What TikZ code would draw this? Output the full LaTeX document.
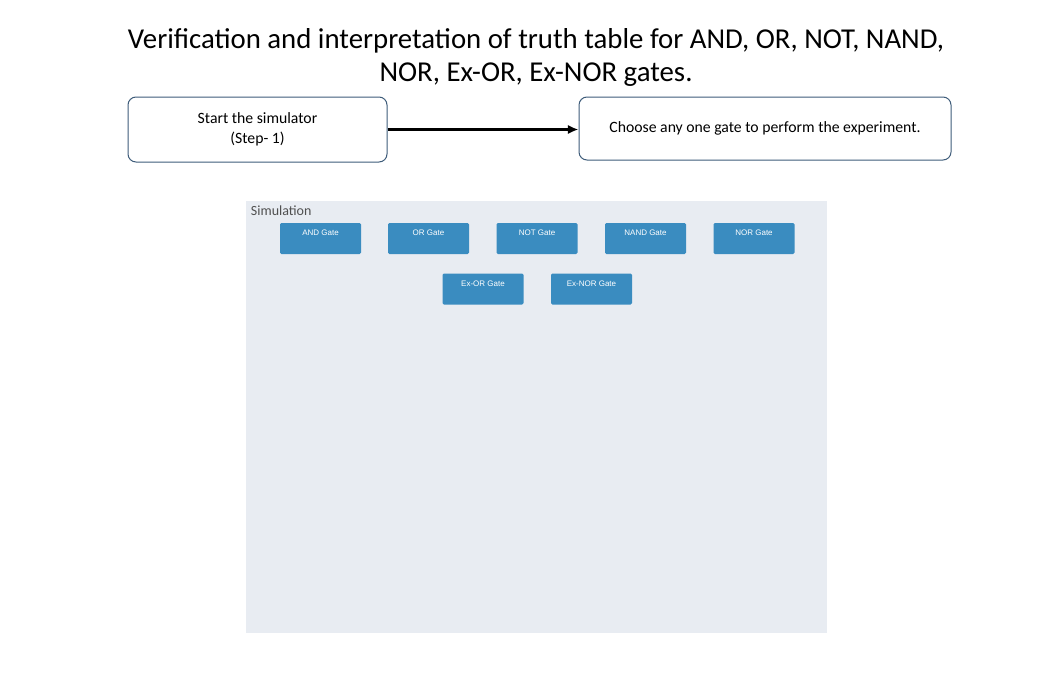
\documentclass[tikz,border=0pt]{standalone}
\usepackage{fontspec}
\setmainfont{Carlito}
\newfontfamily\btnfont{Liberation Sans}
\usetikzlibrary{arrows.meta}

\definecolor{boxline}{RGB}{62,92,122}
\definecolor{panelbg}{RGB}{232,236,242}
\definecolor{btnblue}{RGB}{58,140,192}
\definecolor{simgray}{RGB}{80,80,80}

\tikzset{every picture/.style={line width=0.75pt}}
\tikzset{
	stepbox/.style={draw=boxline, rounded corners=6pt, fill=white, align=center, font=\fontsize{11.8}{15}\selectfont},
	gatebtn/.style={fill=btnblue, rounded corners=1pt, minimum width=60.75pt, minimum height=23.25pt, inner sep=0pt,
		text=white, font=\btnfont\fontsize{6}{7}\selectfont, text height=4.4pt, text depth=8.4pt}
}

\begin{document}
\begin{tikzpicture}[x=0.75pt,y=0.75pt,yscale=-1,xscale=1]
	\path[use as bounding box] (0,0) rectangle (1060,682);

	% Title
	\node[align=center, font=\fontsize{21.6}{24.75}\selectfont] (title) at (536,57.5) {Verification and interpretation of truth table for AND, OR, NOT, NAND,\\NOR, Ex-OR, Ex-NOR gates.};

	% Steps
	\node[stepbox, minimum width=194.25pt, minimum height=48.75pt] (start) at (257.5,129.5) {Start the simulator\\(Step- 1)};
	\node[stepbox, minimum width=279pt, minimum height=47.25pt] (choose) at (765,128.5) {Choose any one gate to perform the experiment.};
	\draw[line width=1.6pt, -{Latex[length=8pt,width=7pt]}] (start.east) -- (start.east -| choose.west);

	% Simulation panel
	\fill[panelbg] (246,201) rectangle (827,633);
	\node[anchor=west, text=simgray, font=\fontsize{10.5}{12}\selectfont] (simlabel) at (246,211) {Simulation};

	% Gate buttons
	\foreach \x/\nm/\txt in {320.5/andbtn/AND Gate, 428.5/orbtn/OR Gate, 537/notbtn/NOT Gate, 645.5/nandbtn/NAND Gate, 754/norbtn/NOR Gate}
		\node[gatebtn] (\nm) at (\x,238.5) {\txt};
	\foreach \x/\nm/\txt in {483/exorbtn/Ex-OR Gate, 591.5/exnorbtn/Ex-NOR Gate}
		\node[gatebtn] (\nm) at (\x,289) {\txt};

\end{tikzpicture}
\end{document}
